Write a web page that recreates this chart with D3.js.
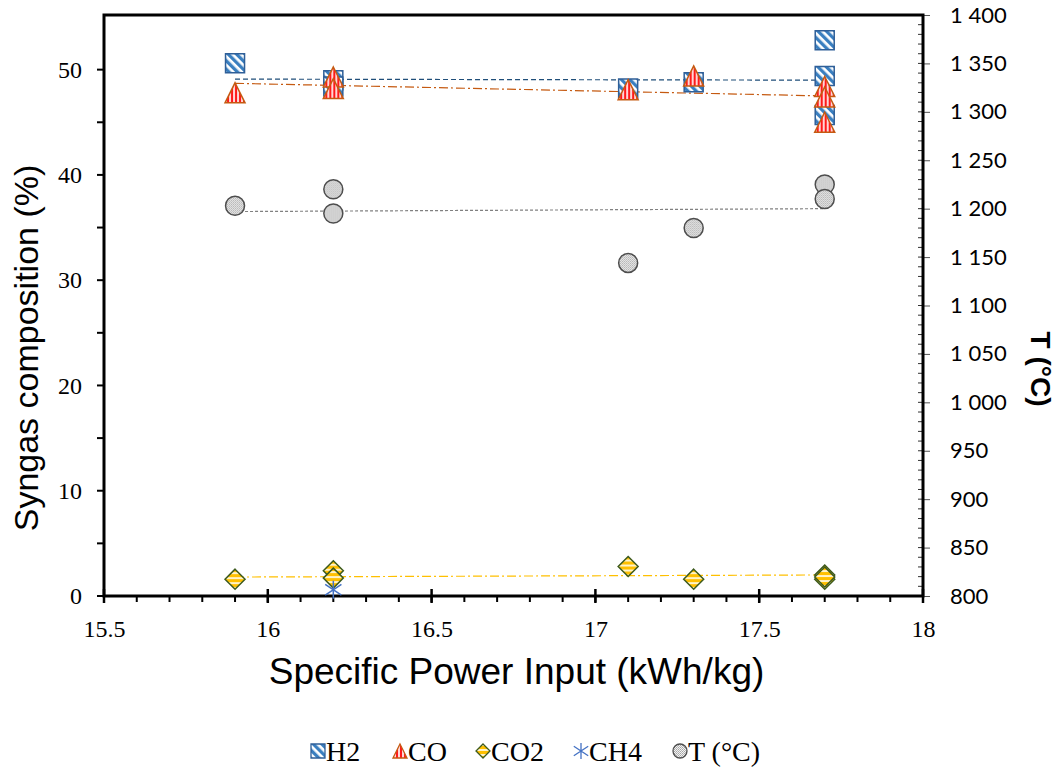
<!DOCTYPE html>
<html>
<head>
<meta charset="utf-8">
<script src="https://cdn.jsdelivr.net/npm/d3@7"></script>
<style>
  body { margin: 0; background: #fff; }
  svg { display: block; }
</style>
</head>
<body>
<div id="chart"></div>
<script>
// runs (specific power input, kWh/kg)
const spi = [15.9, 16.2, 16.2, 17.1, 17.3, 17.7, 17.7, 17.7];
const h2 = [50.6, 49.0, 48.4, 48.2, 48.8, 52.8, 49.4, 45.7];
const co = [47.8, 49.3, 48.2, 48.1, 49.4, 48.4, 47.4, 45.0];
const co2 = [1.6, 2.4, 1.7, 2.8, 1.6, 2.0, 1.6, 1.8];
const ch4 = [null, 0.6, null, null, null, null, null, null];
const temp = [1203, 1220, 1195, 1144, 1180, 1225, 1210, null];

// linear trend lines (end points)
const trendX = [15.9, 17.7];
const h2Trend = [49.1, 49.0];
const coTrend = [48.7, 47.5];
const co2Trend = [1.8, 2.0];
const tTrend = [1197, 1200];

const xTicks = [15.5, 16, 16.5, 17, 17.5, 18];
const legendNames = ["H2", "CO", "CO2", "CH4", "T (°C)"];

const W = 1064, H = 767;
const pLeft = 104, pRight = 923, pTop = 15, pBottom = 596;

const svg = d3.select("#chart").append("svg").attr("width", W).attr("height", H);

// patterns for the marker fills
const defs = svg.append("defs");
const pH2 = defs.append("pattern").attr("id", "pH2").attr("patternUnits", "userSpaceOnUse")
  .attr("width", 6).attr("height", 6).attr("patternTransform", "rotate(-45)");
pH2.append("rect").attr("width", 6).attr("height", 6).attr("fill", "#3a7fc0");
pH2.append("rect").attr("x", 3.3).attr("width", 2.7).attr("height", 6).attr("fill", "#fff");

const pCO = defs.append("pattern").attr("id", "pCO").attr("patternUnits", "userSpaceOnUse")
  .attr("width", 4).attr("height", 4);
pCO.append("rect").attr("width", 4).attr("height", 4).attr("fill", "#ffd6d6");
pCO.append("rect").attr("width", 2).attr("height", 4).attr("fill", "#ff1a1a");

const pCO2 = defs.append("pattern").attr("id", "pCO2").attr("patternUnits", "userSpaceOnUse")
  .attr("width", 5).attr("height", 5);
pCO2.append("rect").attr("width", 5).attr("height", 5).attr("fill", "#fff3c8");
pCO2.append("rect").attr("width", 5).attr("height", 3).attr("fill", "#ffc000");

const pT = defs.append("pattern").attr("id", "pT").attr("patternUnits", "userSpaceOnUse")
  .attr("width", 2).attr("height", 2);
pT.append("rect").attr("width", 2).attr("height", 2).attr("fill", "#f2f2f2");
pT.append("rect").attr("width", 1).attr("height", 1).attr("fill", "#a6a6a6");
pT.append("rect").attr("x", 1).attr("y", 1).attr("width", 1).attr("height", 1).attr("fill", "#b8b8b8");

const x = d3.scaleLinear().domain([15.5, 18]).range([pLeft, pRight]);
const y = d3.scaleLinear().domain([0, 55]).range([pBottom, pTop + 2]);
const yT = d3.scaleLinear().domain([800, 1400]).range([pBottom, pTop]);

const g = svg.append("g");

// axes
const xAxisMaj = d3.axisBottom(x).tickValues(xTicks).tickSize(0).tickFormat(d3.format(""));
const gx = g.append("g").attr("transform", `translate(0,${pBottom})`).call(xAxisMaj);
gx.select(".domain").remove();
gx.selectAll("text").attr("dy", 0).attr("y", 41)
  .style("font-family", "'Liberation Serif', serif").style("font-size", "24px").attr("fill", "#000");

// x ticks
g.append("g").selectAll("line").data(d3.range(15.6, 18, 0.1).map(d => +d.toFixed(1)))
  .join("line").attr("x1", d => x(d)).attr("x2", d => x(d))
  .attr("y1", pBottom).attr("y2", pBottom + 6).attr("stroke", "#000").attr("stroke-width", 2);
g.append("g").selectAll("line").data(xTicks)
  .join("line").attr("x1", d => x(d)).attr("x2", d => x(d))
  .attr("y1", pBottom - 7).attr("y2", pBottom + 7).attr("stroke", "#000").attr("stroke-width", 2.5);

// left axis
const gy = g.append("g").attr("transform", `translate(${pLeft},0)`)
  .call(d3.axisLeft(y).tickValues(d3.range(0, 51, 10)).tickSize(0).tickPadding(22));
gy.select(".domain").remove();
gy.selectAll("text").style("font-family", "'Liberation Serif', serif").style("font-size", "24px").attr("fill", "#000");
g.append("g").selectAll("line").data(d3.range(0, 55, 5))
  .join("line").attr("x1", pLeft - 7).attr("x2", pLeft)
  .attr("y1", d => y(d)).attr("y2", d => y(d)).attr("stroke", "#000").attr("stroke-width", 2);

// right axis
const fmt = d3.formatLocale({decimal: ".", thousands: "\u00a0", grouping: [3], currency: ["", ""]}).format(",");
const gyr = g.append("g").attr("transform", `translate(${pRight},0)`)
  .call(d3.axisRight(yT).tickValues(d3.range(800, 1401, 50)).tickSize(7).tickPadding(20).tickFormat(fmt));
gyr.select(".domain").remove();
gyr.selectAll("line").attr("stroke", "#555").attr("stroke-width", 1);
gyr.selectAll("text").style("font-family", "Lato, 'Liberation Sans', sans-serif").style("font-size", "22px").attr("fill", "#000");
g.append("g").selectAll("line").data(d3.range(810, 1400, 10))
  .join("line").attr("x1", pRight - 5).attr("x2", pRight)
  .attr("y1", d => yT(d)).attr("y2", d => yT(d)).attr("stroke", "#333").attr("stroke-width", 1);

// frame
g.append("rect").attr("x", pLeft).attr("y", pTop).attr("width", pRight - pLeft).attr("height", pBottom - pTop)
  .attr("fill", "none").attr("stroke", "#000").attr("stroke-width", 3);

// trend lines
const trend = (vals, sc, color, dash) => {
  g.append("line")
    .attr("x1", x(trendX[0])).attr("x2", x(trendX[1]))
    .attr("y1", sc(vals[0])).attr("y2", sc(vals[1]))
    .attr("stroke", color).attr("stroke-width", 1.2).attr("stroke-dasharray", dash);
};
trend(h2Trend, y, "#1f4e79", "5,3");
trend(coTrend, y, "#c55a11", "9,3,2,3");
trend(co2Trend, y, "#ffc000", "9,3,2,3");
trend(tTrend, yT, "#808080", "3,2");

// marker shapes
const square = s => `M${-s/2},${-s/2}h${s}v${s}h${-s}Z`;
const tri = s => `M0,${-s/2}L${s/2},${s/2}L${-s/2},${s/2}Z`;
const diamond = s => `M0,${-s/2}L${s/2},0L0,${s/2}L${-s/2},0Z`;
const star = s => `M0,${-s/2}V${s/2}M${-s*0.45},${-s*0.3}L${s*0.45},${s*0.3}M${-s*0.45},${s*0.3}L${s*0.45},${-s*0.3}`;
const circle = s => d3.symbol(d3.symbolCircle, Math.PI * s * s / 4)();

const styles = [
  {shape: square, fill: "url(#pH2)", stroke: "#2f5f98", sw: 1.5},
  {shape: tri, fill: "url(#pCO)", stroke: "#c55a11", sw: 1.5},
  {shape: diamond, fill: "url(#pCO2)", stroke: "#3d5a1e", sw: 1.5},
  {shape: star, fill: "none", stroke: "#4472c4", sw: 1.5},
  {shape: circle, fill: "url(#pT)", stroke: "#4d4d4d", sw: 1.5}
];

const series = [
  {vals: h2, sc: y, st: styles[0], size: 19},
  {vals: co, sc: y, st: styles[1], size: 20},
  {vals: co2, sc: y, st: styles[2], size: 20},
  {vals: ch4, sc: y, st: styles[3], size: 18},
  {vals: temp, sc: yT, st: styles[4], size: 19}
];

series.forEach(s => {
  const pts = spi.map((d, i) => [d, s.vals[i]]).filter(p => p[1] != null);
  g.append("g").selectAll("path").data(pts).join("path")
    .attr("transform", p => `translate(${x(p[0])},${s.sc(p[1])})`)
    .attr("d", s.st.shape(s.size))
    .attr("fill", s.st.fill).attr("stroke", s.st.stroke).attr("stroke-width", s.st.sw);
});

// axis titles
svg.append("text").attr("x", (pLeft + pRight) / 2 + 3).attr("y", 684)
  .attr("text-anchor", "middle")
  .style("font-family", "'Liberation Sans', Arial, sans-serif").style("font-size", "37px")
  .text("Specific Power Input (kWh/kg)");
svg.append("text").attr("transform", "translate(38,348) rotate(-90)")
  .attr("text-anchor", "middle")
  .style("font-family", "'Liberation Sans', Arial, sans-serif").style("font-size", "34px")
  .text("Syngas composition (%)");
svg.append("text").attr("transform", "translate(1031,369) rotate(90)")
  .attr("text-anchor", "middle").attr("font-weight", "bold")
  .style("font-family", "'Liberation Sans', Arial, sans-serif").style("font-size", "28px")
  .text("T (°C)");

// legend
const legX = [318, 400, 483, 581, 680];
const leg = svg.append("g");
legendNames.forEach((name, i) => {
  const st = styles[i];
  leg.append("path").attr("transform", `translate(${legX[i]},751)`)
    .attr("d", st.shape(i === 3 ? 16 : 14))
    .attr("fill", st.fill).attr("stroke", st.stroke).attr("stroke-width", 1.3);
  leg.append("text").attr("x", legX[i] + 8).attr("y", 761)
    .style("font-family", "'Liberation Serif', serif").style("font-size", "28px")
    .text(name);
});
</script>
</body>
</html>
